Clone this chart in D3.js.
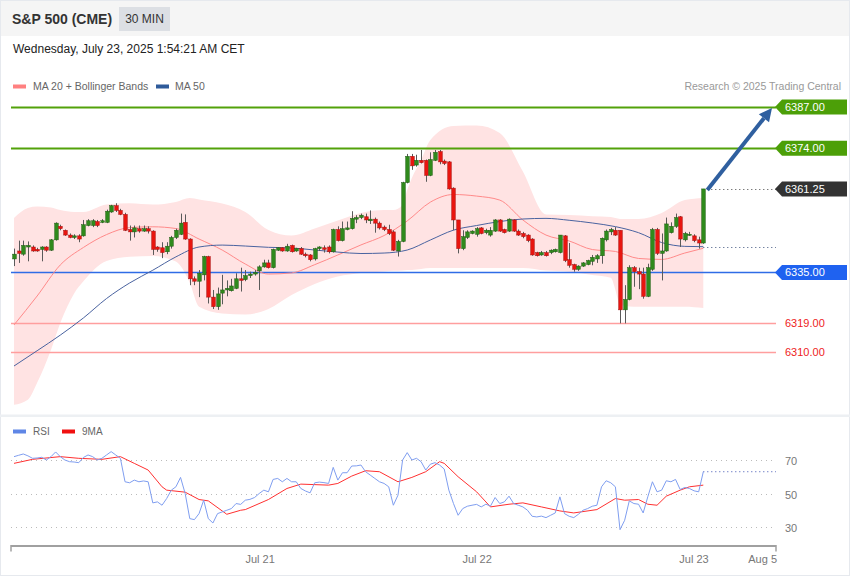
<!DOCTYPE html>
<html><head><meta charset="utf-8">
<script src="https://cdn.jsdelivr.net/npm/d3@7"></script>
<style>body{margin:0;background:#fff} svg{display:block;font-family:"Liberation Sans",Arial,Helvetica,sans-serif}</style>
</head><body><svg id="c" width="850" height="576"></svg>
<script>
// ---- Data (30 MIN candles) ----
const opens=[6339.25,6341.75,6340.75,6343,6343,6342.25,6342.25,6343,6342,6345.25,6349.5,6348.25,6346.75,6346,6346.5,6346.5,6349.75,6349.75,6351,6350.75,6350.75,6354,6356,6354.5,6353.25,6348.5,6347.75,6348.75,6348,6348.75,6348,6343,6342.75,6341.5,6343.25,6346,6347,6350.75,6345.5,6333,6332.25,6334.25,6340,6327.25,6324.25,6328.5,6329.5,6329.25,6330,6333,6332.75,6334,6334.5,6335.5,6336.75,6338,6336.5,6342,6342.75,6341.75,6343.5,6341.75,6342.5,6340.75,6340.5,6339.25,6342.5,6342.75,6343,6341.5,6348.5,6345,6348.5,6348.75,6351.75,6352.25,6352.5,6351.25,6351.75,6350.5,6349.25,6348.5,6347.75,6341.75,6344.75,6363.25,6371.5,6368.75,6370.25,6370.25,6365.5,6370.25,6373,6370,6369.75,6361.5,6351.5,6342.5,6346,6347.25,6347,6349,6347.5,6346.75,6348,6351.5,6348.5,6348,6351.5,6348,6347.25,6346.75,6345.5,6341.25,6340.5,6341.25,6341.25,6341.5,6341.25,6346.5,6339,6337.5,6336,6337,6337.5,6338.5,6339.25,6340.25,6345.25,6347.75,6348.25,6348.25,6323.25,6326.5,6336.5,6335.25,6334.5,6327.5,6336,6348.5,6341,6341.75,6347.5,6349.5,6352.5,6345.25,6346.75,6346.5,6345.25,6344.25];
const highs=[6342.5,6345,6345,6344.75,6343.5,6342.75,6343.25,6343.25,6345.5,6350.75,6350,6348.5,6347.25,6347,6347,6351.5,6351.75,6351.75,6351.5,6351.75,6354.75,6356.25,6356.75,6355,6353.75,6349.75,6349.75,6349.75,6349.75,6349.5,6348.25,6343.25,6344.5,6344.5,6346.5,6348.75,6353.5,6353.25,6345.75,6333.75,6335.75,6340.25,6340.25,6329.5,6330.25,6334.25,6332.5,6333,6334.75,6336.5,6335.75,6335.25,6335.75,6337.25,6339,6339,6342.5,6343,6343,6344,6343.75,6342.75,6343,6341.25,6340.75,6342.75,6343.25,6343.5,6343.5,6348.75,6349.5,6351,6351,6354.25,6353,6353.5,6353.5,6354.5,6352.25,6351,6349.75,6350,6348.25,6345.25,6363.5,6372.25,6372.25,6372,6373.5,6370.5,6372.75,6373.5,6373.5,6370.5,6370,6361.75,6351.5,6348.25,6348.25,6348.25,6349.25,6349.25,6348.75,6349.25,6351.75,6351.75,6348.75,6352,6351.75,6348.5,6347.75,6347,6345.75,6341.5,6341.75,6341.75,6342.25,6342.5,6346.75,6346.75,6344.25,6337.75,6337.25,6338.25,6339,6340.5,6340.75,6346,6348.5,6349,6349.25,6348.25,6331,6337.25,6337,6336.5,6336.5,6337.75,6349,6349,6347.25,6352.25,6350.75,6353.5,6352.75,6347.75,6347.75,6347,6346.25,6361.25];
const lows=[6337,6338,6340.25,6338.5,6341.5,6341.5,6338.5,6341.5,6341.75,6345,6348.25,6346.5,6345.75,6345.5,6344.5,6346.25,6349.5,6349.25,6349.25,6350.5,6350.5,6353.75,6354,6353,6348,6345,6346,6347.5,6347.75,6347.25,6340.5,6341.5,6339.5,6340.75,6342.5,6345.5,6346.75,6345.25,6331,6331,6327.25,6332.5,6325.25,6323.5,6323.25,6325,6327.5,6329,6329.75,6329,6332.25,6333.25,6334,6329.5,6336.5,6336.25,6336.25,6341.75,6341.5,6341.5,6341.25,6341.5,6340.5,6339.75,6338.5,6338.75,6341.75,6341.25,6341,6341.25,6344.75,6344.75,6348.25,6348.5,6350.5,6351.75,6350.5,6350.25,6347.5,6348.5,6348,6346.75,6341.75,6340,6344.5,6363,6367.25,6368.25,6369.25,6363.5,6365.25,6370,6369,6368.75,6361,6348.25,6341,6342,6345.5,6347,6346.25,6347,6347,6346.25,6347.75,6347.75,6347.25,6347.75,6347.75,6346.5,6345.75,6344.5,6340.25,6340,6340.25,6340,6340.75,6341.25,6341,6338.25,6336.5,6335.25,6335.5,6336.75,6337.25,6337.25,6338,6337.75,6344.75,6346.75,6346.5,6319,6319,6326.25,6330.5,6329.75,6326.75,6327.25,6335.5,6340.5,6332.5,6341.5,6347.25,6349,6343,6344.75,6346.5,6344.5,6342.5,6344];
const closes=[6340.75,6341,6343.5,6343.5,6341.75,6341.75,6343,6342,6345.25,6350.5,6348.75,6346.75,6346,6346.5,6345.5,6350,6351.25,6351.25,6349.75,6351.25,6354.25,6356,6354.5,6353.25,6348.25,6347.75,6349,6348,6348.75,6348,6342.25,6342.25,6341.25,6343.25,6346,6348.25,6350.5,6345.5,6333,6332.25,6334.75,6340,6327.25,6324.25,6328.25,6329.5,6330,6330.75,6333,6332.5,6334,6334.5,6335,6336.75,6338,6336.5,6342.25,6342.75,6341.75,6343.25,6341.5,6342.5,6340.75,6340.25,6339,6342.5,6343,6342.25,6341.5,6348.5,6345,6348.75,6349,6352,6352.25,6353,6351.5,6351.75,6350.5,6349,6348.5,6347.25,6342,6344.75,6363.25,6371.5,6368.5,6370.25,6369.5,6365.5,6370.5,6372.75,6369.75,6369.25,6361.25,6351.5,6342.5,6346.25,6347.75,6348,6348.75,6347.25,6348.25,6348.25,6351.5,6348,6347.5,6351.75,6348,6346.75,6346.25,6345,6340.5,6340.25,6341.25,6340.25,6342,6342.25,6346.75,6338.75,6337.25,6336,6337,6338,6338.75,6339.75,6340.25,6345.75,6348,6348.5,6346.75,6323.25,6326.5,6336.5,6335.25,6334.5,6327.5,6336.5,6348.5,6341,6341.75,6350.25,6349.5,6352.25,6345.5,6347.25,6347,6345,6344.25,6361.25];

// Moving averages (at candle indices)
const maIdx=[0,5,10,15,20,25,30,35,40,45,50,55,60,65,70,75,80,85,90,95,100,105,110,115,120,125,130,135,140,145,149];
const ma20=[6318.5,6327.6,6337.35,6342.85,6346.9,6349.1,6349.35,6348.8,6345.5,6342.05,6337.65,6334.5,6334.85,6337.45,6340.5,6343.65,6346.6,6351.2,6357.1,6359.5,6359,6357.75,6351.5,6346.75,6344.9,6342.2,6341.6,6339.4,6339.1,6341.1,6342.6];
const ma50=[6305.6,6310.4,6315.3,6320.7,6326.8,6331.7,6335.7,6339.9,6343.0,6343.6,6343.3,6342.9,6342.7,6342.05,6341.4,6340.95,6341.1,6342.05,6345.2,6348.3,6349.75,6351,6351.8,6352,6351.4,6350.55,6349.4,6347.5,6344.4,6343.2,6343.1];
const bandIdx=[0,3,5,8,10,13,15,20,25,30,35,38,40,45,50,55,60,65,70,75,80,82,84,85,86,88,90,95,100,105,110,115,120,125,129,130,131,135,140,145,149];
const bbUpper=[6352.1,6355.25,6355.7,6355.4,6354.6,6354,6354,6356.35,6356.75,6356.35,6357.15,6358.4,6357.9,6356.65,6354,6348.35,6346.6,6348.8,6351.3,6353.7,6354.6,6354.6,6356.2,6360.9,6364.7,6370.3,6376.6,6381,6381.15,6378.8,6366.7,6353.2,6353.05,6352.7,6352.4,6352.1,6351.8,6351.8,6353.7,6357.75,6358.4];
const bbLower=[6293.4,6295,6300.3,6310.7,6319.1,6328.4,6332.2,6338.6,6339.9,6340.2,6338.45,6331.7,6324.2,6322.1,6321.8,6323.5,6327.9,6331.4,6333.7,6334.8,6335.3,6335.5,6335.6,6335.8,6335.8,6336.1,6336.4,6336.4,6336.4,6336.4,6336.4,6335.6,6335.2,6334.2,6333.3,6329.5,6324.8,6324.2,6324.2,6324.2,6323.8];

// RSI (one value per candle) and its 9-period MA (read at candle indices)
const rsi=[72,72.8,73.6,72.5,71,71.2,71.6,70,72,74.8,72,70,69,68.8,68.4,71.5,73,72,70,71,73,75,73,71,57,56.4,58,57,57.5,57,44.4,45,43,47,52,54,59.6,50,35,34.4,38,46,35,32.4,38,39,40,41,44,43.5,46,46.5,47.6,50,52,51,58.4,59,57,59,57,57,53,51.5,50.4,56.4,56.8,56.5,56,65.6,58,62.4,62.4,66.4,66.5,67,63,61,59,57,56,54,43,49,70,74.4,70,71,69,64,67.5,68.4,67,64.6,52,44,37,41,42.4,43,43.5,42,43.6,42.5,47.6,44,45,48.4,44,43,42,40,36.4,36,36.5,35.6,37,38.4,48,38,36.4,35.6,37.6,40,41,42.4,43,54,57.6,56.4,54,28.4,34,45.6,44,43.6,38.4,48,57,51,52,57.6,57,58.4,52.4,53.6,53,51.6,51,63];
const rsiMaIdx=[0,4,10,14,19,23,26,29,32,33,37,40,42,46,49,50,55,59,62,68,70,73,76,79,83,86,89,92,93,96,100,103,107,110,114,118,121,126,130,132,135,137,139,141,144,146,149];
const rsiMa=[68,70.4,72,71,70.4,72,68,64,54,52,50.8,46.4,45.6,37.6,40,40.4,46.4,53,55.6,55,56,60.4,63.6,63,57,59.6,63,69,68,60,51,42,43.6,44.4,42,39.6,38.4,40.4,47,46,46.4,43.6,43,48.4,52,54,55];

// Levels
const levelPrices=[6387,6374,6361.25,6335,6319,6310];
const levelLabels=["6387.00","6374.00","6361.25","6335.00","6319.00","6310.00"];
const levelKinds=["target","target","last","pivot","support","support"];
const rsiTicks=[70,50,30];
const dateLabels=["Jul 21","Jul 22","Jul 23","Aug 5"];
const datePos=[53.2,100.1,147,162];

// ---- Drawing ----
const svg=d3.select("#c");
const W=850,H=576,L=11,R=776;
const x=d3.scaleLinear().domain([0,149]).range([14,703.3]);
const y=d3.scaleLinear().domain([6310,6387]).range([352,107]);
const ry=d3.scaleLinear().domain([30,70]).range([527,460]);

svg.append("rect").attr("x",0.5).attr("y",0.5).attr("width",W-1).attr("height",H-1).attr("fill","#fff").attr("stroke","#e6e9ee");
svg.append("rect").attr("x",1).attr("y",1).attr("width",W-2).attr("height",35).attr("fill","#f5f5f5");
svg.append("rect").attr("x",0).attr("y",414.5).attr("width",W).attr("height",2.5).attr("fill","#edf0f3");

// header
svg.append("text").attr("x",12).attr("y",24).attr("font-size",14).attr("font-weight","bold").attr("fill","#333").text("S&P 500 (CME)");
svg.append("rect").attr("x",119).attr("y",7).attr("width",51).attr("height",24).attr("fill","#dcdfe4");
svg.append("text").attr("x",144.5).attr("y",23).attr("text-anchor","middle").attr("font-size",12).attr("fill","#333").text("30 MIN");
svg.append("text").attr("x",13).attr("y",53).attr("font-size",12).attr("fill","#222").text("Wednesday, July 23, 2025 1:54:21 AM CET");

// legend
svg.append("rect").attr("x",13).attr("y",84.5).attr("width",13).attr("height",4).attr("fill","#ff8080");
svg.append("text").attr("x",33).attr("y",90).attr("font-size",10.5).attr("fill","#666").text("MA 20 + Bollinger Bands");
svg.append("rect").attr("x",156).attr("y",84.5).attr("width",13).attr("height",4).attr("fill","#2e5b9a");
svg.append("text").attr("x",175).attr("y",90).attr("font-size",10.5).attr("fill","#666").text("MA 50");
svg.append("text").attr("x",841).attr("y",90).attr("text-anchor","end").attr("font-size",10.5).attr("fill","#999").text("Research © 2025 Trading Central");

// Bollinger band fill
const bandData=bandIdx.map((d,i)=>({i:d,u:bbUpper[i],l:bbLower[i]}));
svg.append("path").datum(bandData)
  .attr("d",d3.area().x(d=>x(d.i)).y0(d=>y(d.l)).y1(d=>y(d.u)).curve(d3.curveMonotoneX))
  .attr("fill","#ffe3e3");

// level lines
const lvlColor={target:"#52a20a",last:"#333",pivot:"#2f6ce6",support:"#ff9e9e"};
levelPrices.forEach((p,k)=>{
  const kind=levelKinds[k], yy=Math.round(y(p))+0.5;
  if(kind==="last"){
    svg.append("line").attr("x1",x(149)+4).attr("x2",R).attr("y1",yy).attr("y2",yy)
      .attr("stroke","#444").attr("stroke-dasharray","1,3");
  } else {
    svg.append("line").attr("x1",L).attr("x2",R).attr("y1",yy).attr("y2",yy)
      .attr("stroke",lvlColor[kind]).attr("stroke-width",kind==="target"?2:1.5);
  }
});
// MA50 last value dotted extension
svg.append("line").attr("x1",x(149)).attr("x2",R).attr("y1",Math.round(y(ma50[ma50.length-1]))+0.5).attr("y2",Math.round(y(ma50[ma50.length-1]))+0.5)
  .attr("stroke","#3a4f7a").attr("stroke-dasharray","1,3");

// MA lines
const ma20Data=maIdx.map((d,i)=>[x(d),y(ma20[i])]);
const ma50Data=maIdx.map((d,i)=>[x(d),y(ma50[i])]);
svg.append("path").attr("d",d3.line().curve(d3.curveMonotoneX)(ma20Data)).attr("fill","none").attr("stroke","#ff8a8a").attr("stroke-width",1);
svg.append("path").attr("d",d3.line().curve(d3.curveMonotoneX)(ma50Data)).attr("fill","none").attr("stroke","#4a63a0").attr("stroke-width",1);

// candles
const candles=opens.map((o,i)=>({i,o,h:highs[i],l:lows[i],c:closes[i]}));
const g=svg.append("g");
g.selectAll("line.w").data(candles).join("line").attr("class","w")
  .attr("x1",d=>Math.round(x(d.i))+0.5).attr("x2",d=>Math.round(x(d.i))+0.5)
  .attr("y1",d=>y(d.h)).attr("y2",d=>y(d.l)).attr("stroke","#5a5a5a").attr("stroke-width",1);
g.selectAll("rect.b").data(candles).join("rect").attr("class","b")
  .attr("x",d=>Math.round(x(d.i))+0.5-1.8).attr("width",3.6)
  .attr("y",d=>y(Math.max(d.o,d.c))).attr("height",d=>Math.max(1,Math.abs(y(d.o)-y(d.c))))
  .attr("fill",d=>d.c>=d.o?"#2f8a1c":"#e8150f")
  .attr("stroke",d=>d.c>=d.o?"#1c5c10":"#a81010").attr("stroke-width",0.5);

// arrow
(function(){
  const x1=x(149)+4,y1=y(closes[149])+1,x2=772,y2=y(levelPrices[0])+1;
  const ang=Math.atan2(y2-y1,x2-x1),hl=13,hw=6.5;
  const bx=x2-hl*Math.cos(ang),by=y2-hl*Math.sin(ang);
  svg.append("line").attr("x1",x1).attr("y1",y1).attr("x2",bx).attr("y2",by).attr("stroke","#2f5f9f").attr("stroke-width",4);
  const px=-Math.sin(ang),py=Math.cos(ang);
  svg.append("polygon").attr("points",[[x2,y2],[bx+px*hw,by+py*hw],[bx-px*hw,by-py*hw]].map(p=>p.join(",")).join(" ")).attr("fill","#2f5f9f");
})();

// tags
const tagFill={target:"#4c9f08",last:"#333333",pivot:"#1f62f0"};
levelPrices.forEach((p,k)=>{
  const kind=levelKinds[k], yy=y(p);
  if(kind==="support"){
    svg.append("text").attr("x",785).attr("y",yy+4).attr("font-size",11).attr("fill","#ee2222").text(levelLabels[k]);
  } else {
    const pts=[[775,yy],[782,yy-7.5],[847,yy-7.5],[847,yy+7.5],[782,yy+7.5]];
    svg.append("polygon").attr("points",pts.map(q=>q.join(",")).join(" ")).attr("fill",tagFill[kind]);
    svg.append("text").attr("x",785).attr("y",yy+4).attr("font-size",11).attr("fill","#fff").text(levelLabels[k]);
  }
});

// ---- RSI panel ----
svg.append("rect").attr("x",13).attr("y",429.5).attr("width",13).attr("height",4).attr("fill","#5f86e6");
svg.append("text").attr("x",33).attr("y",435).attr("font-size",10).attr("fill","#666").text("RSI");
svg.append("rect").attr("x",62).attr("y",429.5).attr("width",13).attr("height",4).attr("fill","#f01010");
svg.append("text").attr("x",82).attr("y",435).attr("font-size",10).attr("fill","#666").text("9MA");

rsiTicks.forEach(t=>{
  const yy=Math.round(ry(t))+0.5;
  svg.append("line").attr("x1",L).attr("x2",R).attr("y1",yy).attr("y2",yy).attr("stroke","#bbb").attr("stroke-dasharray","1,4");
  svg.append("text").attr("x",785).attr("y",yy+4).attr("font-size",11).attr("fill","#777").text(t);
});
svg.append("line").attr("x1",x(149)).attr("x2",R).attr("y1",ry(rsi[149])).attr("y2",ry(rsi[149]))
  .attr("stroke","#3b50b0").attr("stroke-dasharray","1,3");
svg.append("path").attr("d",d3.line()(rsiMaIdx.map((d,i)=>[x(d),ry(rsiMa[i])]))).attr("fill","none").attr("stroke","#ff3030").attr("stroke-width",1);
svg.append("path").attr("d",d3.line()(rsi.map((v,i)=>[x(i),ry(v)]))).attr("fill","none").attr("stroke","#7f9ef0").attr("stroke-width",1);

// x axis
svg.append("line").attr("x1",L).attr("x2",R).attr("y1",546).attr("y2",546).attr("stroke","#a0a0a0").attr("stroke-width",2);
[L,R].forEach(xx=>svg.append("line").attr("x1",xx).attr("x2",xx).attr("y1",545).attr("y2",551.5).attr("stroke","#a0a0a0").attr("stroke-width",1.5));
dateLabels.forEach((t,k)=>{
  const last=k===dateLabels.length-1;
  svg.append("text").attr("x",last?777:x(datePos[k])).attr("y",562.5).attr("text-anchor",last?"end":"middle")
    .attr("font-size",11).attr("fill","#777").text(t);
});
</script></body></html>
